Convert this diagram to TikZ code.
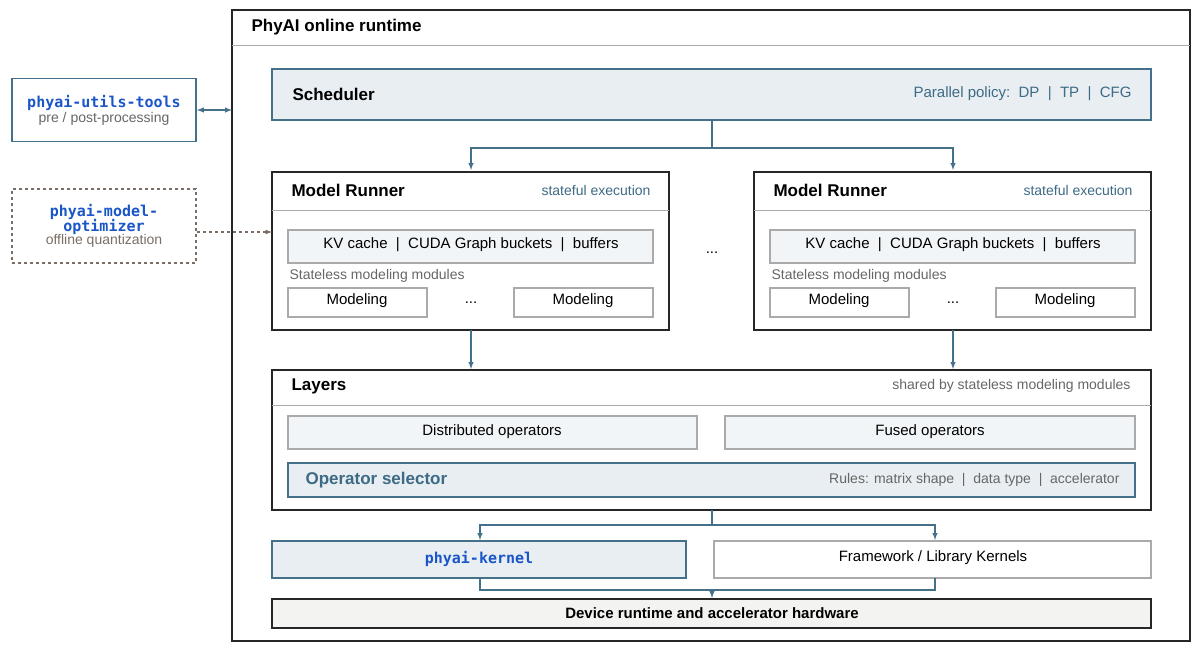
\documentclass[tikz,border=0pt]{standalone}
\usepackage{fontspec}
\setmainfont{Liberation Sans}
\setmonofont{DejaVu Sans Mono}
\usetikzlibrary{positioning, calc}

\definecolor{edgeblue}{HTML}{44708A}
\definecolor{fillblue}{HTML}{E8EEF2}
\definecolor{textblue}{HTML}{3D6A85}
\definecolor{codeblue}{HTML}{1A56C8}
\definecolor{greytext}{HTML}{666666}
\definecolor{greyedge}{HTML}{AAAAAA}
\definecolor{offbrown}{HTML}{7A6E66}
\definecolor{devfill}{HTML}{F3F3F1}

\newcommand{\codetxt}[1]{{\fontsize{15}{17}\selectfont\ttfamily\bfseries\color{codeblue}#1}}
\newcommand{\subtxt}[2]{{\fontsize{14}{17}\selectfont\color{#1}#2}}

\tikzset{
    frame/.style={draw=black!85, line width=1.6pt},
    bluebox/.style={draw=edgeblue, fill=fillblue, line width=1.6pt},
    greybox/.style={draw=greyedge, line width=1.2pt},
    lightbox/.style={draw=greyedge, fill=fillblue!60, line width=1.2pt},
    flow/.style={draw=edgeblue, line width=1.4pt, -latex},
    big/.style={font=\fontsize{17}{20}\selectfont\bfseries},
    mid/.style={font=\fontsize{15}{18}\selectfont},
    small/.style={font=\fontsize{14}{17}\selectfont},
    code/.style={font=\fontsize{15}{17}\selectfont\ttfamily\bfseries, text=codeblue},
}

\begin{document}
\begin{tikzpicture}[x=1pt, y=-1pt]
    \useasboundingbox (0,0) rectangle (1196,648);

    % runtime frame
    \draw[frame] (232,10) rectangle (1190,641);
    \draw[greyedge, line width=1pt] (232,45) -- (1190,45);
    \node (title) [big, anchor=west] at (248,27) {PhyAI online runtime};

    % scheduler
    \draw[bluebox] (272,69) rectangle (1151,120);
    \node (sched) [big, anchor=west] at (289,94) {Scheduler};
    \node (policy) [mid, text=textblue, anchor=east] at (1135,94) {Parallel policy:\ \ DP\ \ |\ \ TP\ \ |\ \ CFG};
    \coordinate (schedS) at (712,120);

    % model runners
    \foreach \dx/\name in {0/L, 482/R}
    {
        \draw[frame] ($(272,172)+(\dx,0)$) rectangle ($(669,330)+(\dx,0)$);
        \draw[greyedge, line width=1pt] ($(272,210)+(\dx,0)$) -- ($(669,210)+(\dx,0)$);
        \node (MR\name) [big, anchor=west] at ($(288,190)+(\dx,0)$) {Model Runner};
        \node (state\name) [small, text=textblue, anchor=east] at ($(654,190)+(\dx,0)$) {stateful execution};
        \draw[lightbox] ($(288,230)+(\dx,0)$) rectangle ($(653,263)+(\dx,0)$);
        \node (kv\name) [mid] at ($(471,245)+(\dx,0)$) {KV cache\ \ |\ \ CUDA Graph buckets\ \ |\ \ buffers};
        \node (sl\name) [small, text=greytext, anchor=west] at ($(286,276)+(\dx,0)$) {Stateless modeling modules};
        \draw[greybox] ($(288,288)+(\dx,0)$) rectangle ($(427,317)+(\dx,0)$);
        \draw[greybox] ($(514,288)+(\dx,0)$) rectangle ($(653,317)+(\dx,0)$);
        \node (ma\name) [mid] at ($(357,301)+(\dx,0)$) {Modeling};
        \node (mb\name) [mid] at ($(583,301)+(\dx,0)$) {Modeling};
        \node (md\name) [mid] at ($(471,303)+(\dx,0)$) {...};
        \coordinate (in\name) at ($(471,170)+(\dx,0)$);
        \coordinate (out\name) at ($(471,330)+(\dx,0)$);
        \coordinate (lay\name) at ($(471,369)+(\dx,0)$);
    }
    \node (mdots) [mid] at (712,253) {...};

    \draw[flow] (schedS) |- ($(inL)+(0,-22)$) -- (inL);
    \draw[flow] (schedS) |- ($(inR)+(0,-22)$) -- (inR);
    \draw[flow] (outL) -- (layL);
    \draw[flow] (outR) -- (layR);

    % layers
    \draw[frame] (272,370) rectangle (1151,510);
    \draw[greyedge, line width=1pt] (272,405) -- (1151,405);
    \node (layers) [big, anchor=west] at (288,386) {Layers};
    \node (shared) [small, text=greytext, anchor=east] at (1134,386) {shared by stateless modeling modules};
    \draw[lightbox] (288,416) rectangle (697,449);
    \draw[lightbox] (725,416) rectangle (1135,449);
    \node (dist) [mid] at (492,432) {Distributed operators};
    \node (fused) [mid] at (930,432) {Fused operators};
    \draw[bluebox] (288,463) rectangle (1135,497);
    \node (opsel) [big, text=textblue, anchor=west] at (302,480) {Operator selector};
    \node (rules) [small, text=greytext, anchor=east] at (1123,480) {Rules: matrix shape\ \ |\ \ data type\ \ |\ \ accelerator};
    \coordinate (layS) at (712,510);

    % kernels
    \draw[bluebox] (272,541) rectangle (686,578);
    \draw[greybox] (714,541) rectangle (1151,578);
    \node (kernel) [code] at (479,559) {phyai-kernel};
    \node (fwk) [mid] at (933,558) {Framework / Library Kernels};
    \coordinate (kN) at (480,540);
    \coordinate (fN) at (935,540);
    \coordinate (kS) at (480,578);
    \coordinate (fS) at (935,578);
    \draw[flow] (layS) |- ($(kN)+(0,-15)$) -- (kN);
    \draw[flow] (layS) |- ($(fN)+(0,-15)$) -- (fN);
    \draw[edgeblue, line width=1.4pt] (kS) |- ($(fS)+(0,12)$) -- (fS);
    \coordinate (devN) at (712,598);
    \draw[flow] (712,590) -- (devN);

    % device
    \draw[frame, fill=devfill] (272,599) rectangle (1151,628);
    \node (device) [font=\fontsize{15}{18}\selectfont\bfseries] at (712,613) {Device runtime and accelerator hardware};

    % side tools
    \node (utils) [draw=edgeblue, line width=1.6pt, minimum width=184pt, minimum height=63pt, align=center] at (104,110)
        {\codetxt{phyai-utils-tools}\\[1pt]\subtxt{greytext}{pre / post-processing}};
    \coordinate (utilsT) at (232,110);
    \draw[edgeblue, line width=1.4pt, latex-latex] (utils.east) -- (utilsT);

    \node (optim) [draw=offbrown, dashed, line width=1.4pt, minimum width=184pt, minimum height=74pt, align=center] at (104,226)
        {\codetxt{phyai-model-}\\[-2pt]\codetxt{optimizer}\\[-1pt]\subtxt{offbrown}{offline quantization}};
    \coordinate (mrW) at (272,232);
    \draw[offbrown, dashed, line width=1.2pt, -latex] (optim.east |- mrW) -- (mrW);
\end{tikzpicture}
\end{document}
